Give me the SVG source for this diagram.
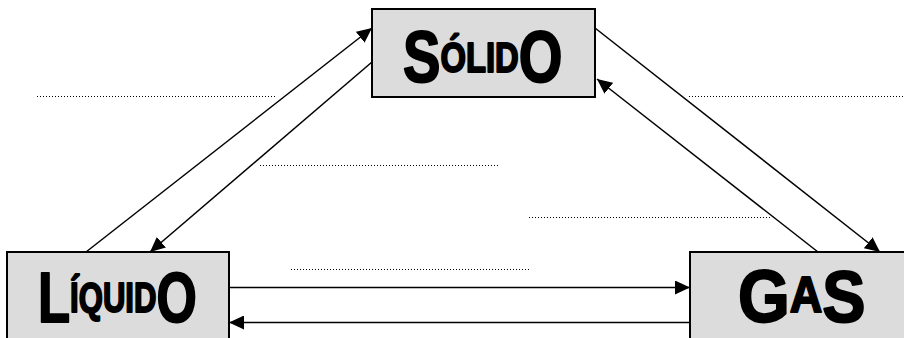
<svg xmlns="http://www.w3.org/2000/svg" width="904" height="338" viewBox="0 0 904 338">
<defs>
<marker id="ah" markerUnits="userSpaceOnUse" markerWidth="15" markerHeight="14" refX="15" refY="7" orient="auto">
<path d="M0,0 L15,7 L0,14 z" fill="#000"/>
</marker>
</defs>
<style>
.box{fill:#dcdcdc;stroke:#000;stroke-width:2}
.lbl{font-family:"Liberation Sans","DejaVu Sans",sans-serif;font-weight:bold;fill:#000;stroke:#000;stroke-width:2;stroke-linejoin:round}
.arr{stroke:#000;stroke-width:1.5;fill:none;marker-end:url(#ah)}
.dot{stroke:#000;stroke-width:1;stroke-dasharray:1 2;fill:none}
</style>
<rect width="904" height="338" fill="#fff"/>
<g id="dotted">
<line class="dot" x1="37" y1="96.5" x2="276" y2="96.5"/>
<line class="dot" x1="689" y1="96.5" x2="904" y2="96.5"/>
<line class="dot" x1="260" y1="165.5" x2="499" y2="165.5"/>
<line class="dot" x1="529" y1="217.5" x2="770" y2="217.5"/>
<line class="dot" x1="291" y1="269.5" x2="531" y2="269.5"/>
</g>
<g id="connectors">
<line class="arr" x1="86" y1="252" x2="372" y2="28"/>
<line class="arr" x1="372" y1="62" x2="150" y2="252"/>
<line class="arr" x1="595" y1="28" x2="880" y2="252"/>
<line class="arr" x1="818" y1="252" x2="597" y2="79"/>
<line class="arr" x1="229" y1="287.5" x2="690" y2="287.5"/>
<line class="arr" x1="690" y1="322.5" x2="229" y2="322.5"/>
</g>
<g id="solido">
<rect class="box" x="372" y="9" width="223" height="88"/>
<text class="lbl" transform="translate(403,82) scale(0.78,1)" x="0" y="0"><tspan font-size="72">S</tspan><tspan font-size="42" dy="-10">ÓLID</tspan><tspan font-size="72" dy="10">O</tspan></text>
</g>
<g id="liquido">
<rect class="box" x="7" y="252" width="222" height="90"/>
<text class="lbl" transform="translate(38,322) scale(0.74,1)" x="0" y="0"><tspan font-size="71">L</tspan><tspan font-size="42" dy="-10">ÍQUID</tspan><tspan font-size="70" dy="10">O</tspan></text>
</g>
<g id="gas">
<rect class="box" x="690" y="252" width="220" height="90"/>
<text class="lbl" transform="translate(738,322) scale(0.9,1)" x="0" y="0"><tspan font-size="74">G</tspan><tspan font-size="50" dy="-10">A</tspan><tspan font-size="72" dy="10">S</tspan></text>
</g>
</svg>
